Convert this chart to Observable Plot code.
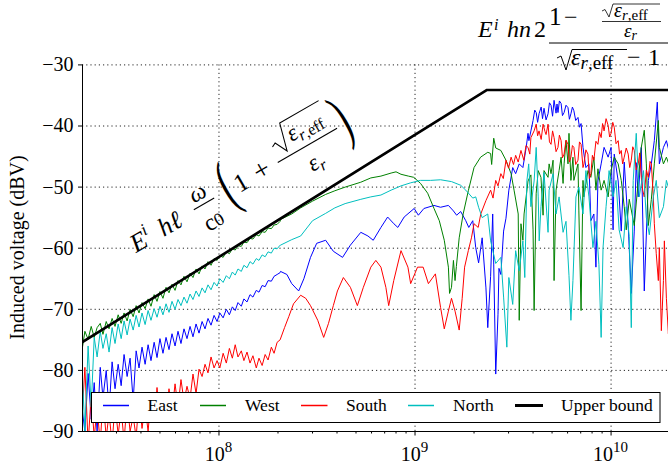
<!DOCTYPE html>
<html><head><meta charset="utf-8">
<script src="https://cdn.jsdelivr.net/npm/d3@7"></script>
<script src="https://cdn.jsdelivr.net/npm/@observablehq/plot@0.6"></script>
<style>body{margin:0;background:#fff}#c{width:668px;height:466px}</style>
</head><body><div id="c"></div>
<script>
// ---------- data (frequency in MHz, induced voltage in dBV) ----------
const lowMHz = [20,20.7,21.5,22.3,23.1,23.9,24.8,25.6,26.6,27.5,28.5,29.5,30.6,31.7,32.8,34,35.2,36.5,37.8,39.1,40.5,42,43.5,45,46.7,48.3,50,51.8,53.7,55.6,57.6,59.7,61.8,64,66.3,68.7,71.2,73.7,76.4,79.1,82,84.9,87.9,91.1,94.4,97.8,101,105,109,113,117,121,125,130,134,139,144,149,155,160,166,172,178,185,191,198,205];

const eastLow = [-86.0,-90.0,-80.5,-88.0,-82.0,-90.0,-79.5,-84.5,-80.0,-86.5,-78.6,-83.0,-79.0,-82.5,-77.4,-81.0,-78.0,-85.0,-76.8,-79.6,-76.2,-79.0,-75.8,-78.4,-75.4,-77.9,-74.8,-77.2,-74.6,-76.6,-74.0,-76.0,-73.6,-75.6,-73.2,-74.8,-72.8,-74.5,-72.4,-73.9,-72.0,-73.2,-71.5,-72.6,-71.0,-72.0,-70.6,-71.4,-70.0,-70.9,-69.6,-70.2,-68.9,-69.5,-68.3,-68.8,-67.6,-68.0,-66.9,-67.2,-66.1,-66.3,-65.3,-65.4,-64.6,-64.3,-64.0];
const westLow = [-76.8,-73.6,-74.9,-72.8,-74.6,-73.0,-72.3,-74.1,-72.0,-73.2,-71.5,-72.8,-70.9,-72.3,-70.6,-71.9,-70.0,-71.2,-69.4,-70.6,-68.9,-69.9,-68.3,-69.5,-67.6,-68.7,-67.1,-68.2,-66.4,-67.3,-65.9,-66.9,-65.3,-66.0,-64.6,-65.5,-64.1,-64.8,-63.4,-64.2,-62.9,-63.4,-62.2,-62.8,-61.7,-62.0,-61.2,-61.5,-60.6,-60.9,-60.1,-60.3,-59.6,-59.7,-59.0,-59.1,-58.4,-58.5,-57.8,-58.0,-57.3,-57.4,-56.7,-56.8,-56.2,-56.1,-55.6];
const southLow = [-88,-79.5,-92,-84,-91,-86,-92,-84.5,-91,-87,-92,-85.5,-90.5,-86.5,-91.5,-85,-90,-87.5,-91,-84.5,-89.5,-85.8,-90,-84.3,-88.5,-82.8,-88,-84.6,-87.2,-83,-86.8,-82.2,-86,-81.5,-85,-82.6,-84.6,-80.6,-83.8,-79.8,-81,-79,-80.4,-77.8,-79.6,-78.4,-79.6,-77.2,-78.8,-76.4,-78.0,-75.8,-77.8,-76.8,-78.4,-77,-78.8,-77.6,-79.6,-78.0,-79.2,-77.4,-78.3,-76.2,-77.2,-75.4,-75.0];
const northLow = [-79.0,-90.0,-76.0,-86.0,-74.6,-77.8,-73.6,-76.4,-74.0,-77.0,-73.0,-75.6,-72.4,-74.8,-71.9,-74.2,-71.6,-73.4,-71.0,-72.9,-70.6,-72.5,-70.2,-71.8,-69.9,-71.3,-69.5,-70.9,-69.1,-70.5,-68.7,-70.0,-68.4,-69.4,-68.0,-69.0,-67.5,-68.4,-67.0,-67.9,-66.5,-67.3,-66.0,-66.8,-65.6,-66.2,-65.0,-65.6,-64.5,-65.0,-63.9,-64.4,-63.4,-63.8,-62.8,-63.2,-62.2,-62.6,-61.7,-62.0,-61.1,-61.4,-60.6,-60.8,-60.0,-60.1,-59.5];

const eastHigh = [[206,-63.8],[222,-64.3],[235,-65.8],[255,-67],[271,-65],[293,-61.5],[315,-59.2],[350,-58.7],[383,-60.5],[427,-61.5],[468,-59.5],[529,-57.4],[575,-58],[612,-58.7],[670,-56.6],[725,-54.9],[780,-56],[817,-56.6],[880,-54.9],[990,-53.5],[1040,-54.6],[1110,-53.5],[1250,-53],[1350,-53.3],[1480,-53.0],[1570,-53.9],[1630,-54.6],[1710,-54.0],[1815,-55.5],[1880,-56.6],[1970,-55.5],[2040,-59.9],[2110,-62.4],[2200,-58.3],[2300,-66.5],[2350,-73],[2430,-64.6],[2490,-54.4],[2520,-62.6],[2580,-80.6],[2650,-70.8],[2680,-63.3],[2740,-64.3],[2830,-57.2],[2910,-55.1],[3010,-50.5],[3150,-46.8],[3260,-47.8],[3400,-46.2],[3550,-46.8],[3690,-43.5],[3770,-41.2],[3810,-42.4],[4000,-39.1],[4080,-37.4],[4150,-37.8],[4220,-39.4],[4290,-38.0],[4400,-36.9],[4470,-38.8],[4550,-37.1],[4660,-39.0],[4770,-38.0],[4850,-36.2],[4940,-36.6],[5030,-38.4],[5120,-35.8],[5240,-37.9],[5300,-36.4],[5360,-37.8],[5450,-35.9],[5560,-36.3],[5650,-38.3],[5760,-37.8],[5890,-36.6],[6030,-37.0],[6130,-38.9],[6240,-38.0],[6350,-36.9],[6460,-37.5],[6600,-39.1],[6780,-38.6],[6900,-40.2],[7030,-39.6],[7190,-43.5],[7440,-46.8],[7710,-46.2],[7890,-55.5],[8170,-54.4],[8370,-63.1],[8570,-49.0],[8900,-46.2],[9210,-43.5],[9660,-45.1],[10000,-43.5],[10240,-57],[10380,-44.6],[10870,-49],[11270,-57.2],[11670,-45.9],[12230,-56.3],[12680,-67.4],[13130,-57.2],[13440,-46],[13760,-51.6],[14260,-43.5],[14770,-67],[15490,-48.9],[16050,-46.2],[16620,-42.4],[17210,-36.1],[17630,-46.2],[18500,-43.5],[19150,-42.4],[20000,-44.8]];

const westHigh = [[206,-55.3],[235,-54.4],[261,-53.4],[300,-52.3],[350,-51.2],[390,-50.6],[440,-50.0],[529,-49.2],[595,-48.5],[670,-48.2],[755,-47.7],[800,-47.5],[848,-47.9],[925,-48.2],[985,-48.4],[1067,-49.4],[1160,-51],[1250,-53.5],[1330,-55.5],[1410,-58.7],[1480,-63.1],[1500,-67.4],[1535,-66.4],[1570,-62],[1600,-65.3],[1625,-63.0],[1680,-58.3],[1760,-54.4],[1870,-50.6],[2000,-46.8],[2160,-45.1],[2350,-44.3],[2430,-44.5],[2460,-46.3],[2520,-42.0],[2580,-43.6],[2740,-44.0],[2910,-45.6],[3090,-47.8],[3200,-50.5],[3360,-54.4],[3400,-71.8],[3470,-56],[3550,-58.7],[3600,-54.4],[3770,-49],[3900,-48],[4000,-57],[4050,-70.2],[4150,-51],[4250,-47.3],[4390,-48.4],[4500,-54.6],[4550,-47.3],[4770,-48.4],[4830,-46.2],[4940,-47.8],[5060,-45.6],[5120,-65.3],[5240,-50.5],[5430,-47.3],[5560,-45.1],[5690,-49.4],[5760,-46.2],[5890,-42.4],[6030,-46.2],[6100,-41.2],[6240,-48.9],[6390,-45.1],[6460,-48.9],[6780,-46.2],[6850,-53.9],[7030,-70.2],[7190,-48.9],[7270,-51.6],[7620,-47.3],[7890,-48.4],[8170,-45.1],[8370,-50.5],[8570,-47],[8900,-50.5],[9210,-48.9],[9660,-51.6],[10000,-47.3],[10380,-45.1],[10870,-46.2],[11270,-48.9],[11670,-53.2],[11950,-57],[12380,-52],[13130,-56.3],[13760,-48.9],[14260,-43.5],[14770,-40.7],[15130,-46.2],[15490,-56.3],[16050,-52],[16620,-46.2],[17420,-39.1],[17630,-43.5],[18500,-46.2],[19150,-45.1],[20000,-46.8]];

const southHigh = [[216,-73],[227,-71.2],[240,-69.1],[261,-67.7],[277,-68.2],[293,-69.4],[319,-71.8],[342,-74.6],[362,-72.3],[383,-69.4],[402,-67],[431,-64.8],[468,-66.4],[508,-69.4],[545,-66.4],[595,-63.1],[631,-62],[670,-63.1],[710,-66.4],[734,-69.4],[779,-65.3],[848,-60.4],[920,-63.1],[950,-65.8],[1030,-63.1],[1100,-63.1],[1170,-65.8],[1270,-64.2],[1350,-69.7],[1410,-73.2],[1480,-70.3],[1535,-68.2],[1600,-70.3],[1680,-73.4],[1740,-68.2],[1790,-63.1],[1870,-60.4],[1940,-58.3],[2000,-56],[2100,-56.6],[2164,-54.4],[2300,-52.2],[2430,-50.5],[2500,-51.8],[2580,-48.9],[2650,-49.8],[2740,-47.8],[2820,-48.6],[2910,-45.6],[3000,-46.9],[3090,-45.1],[3180,-46.3],[3260,-44.8],[3360,-45.9],[3470,-44],[3590,-45.6],[3680,-43.2],[3770,-43.5],[3850,-44.6],[3900,-41.9],[4050,-40.8],[4150,-39.7],[4220,-41.6],[4290,-40.8],[4400,-42.2],[4500,-39.7],[4600,-40.9],[4660,-41.4],[4770,-39.7],[4850,-42.6],[4940,-43],[5030,-40.8],[5120,-41.9],[5240,-44.2],[5360,-43.5],[5450,-41.5],[5560,-42.4],[5650,-45.2],[5760,-44.6],[5890,-42.3],[6030,-43],[6130,-45.9],[6240,-45.1],[6350,-43.2],[6460,-43.5],[6600,-46.3],[6780,-45.6],[6900,-42.6],[7030,-43],[7190,-46.8],[7270,-46.2],[7440,-43.9],[7620,-44.6],[7750,-48.6],[7890,-47.8],[8030,-44.8],[8170,-45.6],[8370,-42.5],[8570,-43],[8730,-41.0],[8900,-41.9],[9050,-39.6],[9210,-40.8],[9430,-38.8],[9660,-39.9],[9830,-41.8],[10000,-41.2],[10200,-39.4],[10380,-40.2],[10600,-42.9],[10870,-42.4],[11050,-44.6],[11270,-44],[11450,-46.2],[11670,-45.1],[11950,-43.6],[12230,-44.6],[12450,-46.8],[12680,-45.6],[12900,-43.4],[13130,-44],[13440,-47.2],[13760,-46.2],[14000,-44.4],[14260,-48.4],[14500,-50.5],[14770,-51.6],[15130,-47.2],[15490,-48.4],[15800,-45.8],[16050,-46.2],[16430,-51.6],[16620,-56],[17000,-60.9],[17420,-65.3],[17630,-59.9],[18050,-73.5],[18500,-65.3],[18700,-58.8],[19150,-68.2],[19600,-74.0],[20000,-70]];

const northHigh = [[206,-59.5],[235,-58.6],[261,-58.0],[300,-55.5],[350,-54.3],[390,-53.4],[440,-52.7],[529,-52.0],[595,-51.6],[670,-51.3],[755,-50.5],[848,-49.8],[950,-49.3],[1067,-48.9],[1200,-48.9],[1350,-48.8],[1535,-49.1],[1710,-49.7],[1815,-50.5],[1970,-51.8],[2040,-51.6],[2110,-53.3],[2200,-55],[2350,-54.4],[2430,-58.8],[2580,-62.5],[2740,-61.5],[2830,-68],[2940,-76.2],[3010,-64.8],[3150,-69.2],[3260,-60.4],[3400,-63.7],[3550,-58.8],[3630,-64.8],[3720,-49],[3800,-46.2],[3900,-53.2],[4050,-49],[4150,-43.5],[4250,-51.6],[4300,-58.8],[4390,-53.2],[4550,-47.6],[4770,-57.4],[4830,-50.5],[5060,-47.8],[5240,-54.4],[5430,-51.6],[5690,-57.4],[5890,-55.6],[6100,-64.5],[6240,-71.8],[6390,-65.3],[6620,-51.6],[6850,-50],[7190,-54.4],[7440,-47.3],[7710,-51.6],[8080,-59.9],[8370,-55.6],[8670,-62.7],[8900,-74.6],[9100,-59.9],[9430,-53.2],[9770,-47.3],[10240,-51.6],[10600,-48.9],[10990,-57.0],[11520,-59.9],[11950,-53.2],[12380,-58.1],[12680,-73],[12970,-48.9],[13440,-41.2],[13920,-51.6],[14630,-47.3],[15130,-55.0],[15670,-57.8],[16430,-51.6],[17000,-48.9],[17630,-55.0],[18500,-53.2],[19150,-48.9],[20000,-51.0]];

const boundMHz = [20, 2330, 20000];
const boundV = [-75.4, -34.1, -34.1];

const seriesNames = ["East", "West", "South", "North", "Upper bound"];
const seriesColors = ["#0000ff", "#008000", "#ff0000", "#00bfbf", "#000000"];
const yTicks = [-90, -80, -70, -60, -50, -40, -30];
const xMajor = [1e8, 1e9, 1e10];
const xMajorExp = ["8", "9", "10"];
const xMinor = [3e7,4e7,5e7,6e7,7e7,8e7,9e7,2e8,3e8,4e8,5e8,6e8,7e8,8e8,9e8,2e9,3e9,4e9,5e9,6e9,7e9,8e9,9e9];

// ---------- build tables ----------
const mk = (fs, vs) => fs.map((f, i) => ({f: f * 1e6, v: vs[i]}));
const mkp = arr => arr.map(([f, v]) => ({f: f * 1e6, v}));
const east = [...mk(lowMHz, eastLow), ...mkp(eastHigh)];
const west = [...mk(lowMHz, westLow), ...mkp(westHigh)];
const south = [...mk(lowMHz, southLow), ...mkp(southHigh)];
const north = [...mk(lowMHz, northLow), ...mkp(northHigh)];
const bound = mk(boundMHz, boundV);
const all = [east, west, south, north];

const SERIF = "'Liberation Serif','DejaVu Serif',serif";

const chart = Plot.plot({
  width: 668, height: 466,
  marginLeft: 82, marginRight: 0, marginTop: 64.4, marginBottom: 35,
  style: {fontFamily: SERIF, background: "#fff", color: "#000", overflow: "hidden"},
  x: {type: "log", domain: [2.013e7, 1.963e10], axis: null, label: null},
  y: {domain: [-90, -30], axis: null, label: null},
  marks: [
    Plot.gridX(xMajor, {stroke: "#000", strokeOpacity: 0.85, strokeDasharray: "1.2,3"}),
    Plot.gridY(yTicks.slice(1), {stroke: "#000", strokeOpacity: 0.85, strokeDasharray: "1.2,3"}),
    ...all.map((d, i) => Plot.line(d, {x: "f", y: "v", stroke: seriesColors[i], strokeWidth: 1, clip: true})),
    Plot.line(bound, {x: "f", y: "v", stroke: "#000", strokeWidth: 2.6, clip: true}),
    Plot.ruleX([2.013e7], {stroke: "#000", strokeWidth: 1}),
    Plot.ruleY([-90], {stroke: "#000", strokeWidth: 1}),
    Plot.axisY(yTicks, {anchor: "left", tickSize: 4, tickPadding: 5, fontSize: 20, label: null,
      tickFormat: d => "\u2212" + Math.abs(d)}),
    Plot.axisX(xMajor, {anchor: "bottom", tickSize: 4.5, label: null, tickFormat: () => ""}),
    Plot.axisX(xMinor, {anchor: "bottom", tickSize: 2.5, label: null, tickFormat: () => ""})
  ]
});
document.getElementById("c").appendChild(chart);

// ---------- annotations ----------
const sx = chart.scale("x");
const svg = d3.select(chart);
const g = svg.append("g").attr("font-family", SERIF).attr("fill", "#000").attr("text-anchor", "start");

function T(p, x, y, size, parts, opts = {}) {
  const t = p.append("text").attr("x", x).attr("y", y).attr("font-size", size)
    .attr("text-anchor", opts.anchor || "start");
  if (opts.transform) t.attr("transform", opts.transform);
  for (const [s, it, sz, dy] of parts) {
    const ts = t.append("tspan").text(s);
    if (it) ts.attr("font-style", "italic");
    if (sz) ts.attr("font-size", sz);
    if (dy) ts.attr("dy", dy);
  }
  return t;
}
function L(p, x1, y1, x2, y2, w = 1) {
  p.append("line").attr("x1", x1).attr("y1", y1).attr("x2", x2).attr("y2", y2)
    .attr("stroke", "#000").attr("stroke-width", w);
}
function P(p, d, w = 1) {
  p.append("path").attr("d", d).attr("fill", "none").attr("stroke", "#000").attr("stroke-width", w);
}

// x tick labels 10^n
xMajor.forEach((v, i) => {
  T(g, sx.apply(v), 461, 20, [["10"], [xMajorExp[i], 0, 15, -9]], {anchor: "middle"});
});

// y label
T(g, 0, 0, 20, [["Induced voltage (dBV)"]], {anchor: "middle", transform: "translate(24,247.5) rotate(-90)"});

// rotated formula along the rising bound
const rg = g.append("g").attr("transform", "translate(136,253) rotate(-30) scale(1.07)");
T(rg, 0, 0, 24, [["E", 1]]);
T(rg, 15, -10, 16, [["i", 1]]);
T(rg, 30, 0, 24, [["h\u2113", 1]]);
T(rg, 78, -13, 22, [["\u03c9", 1]], {anchor: "middle"});
L(rg, 67, -8, 89, -8);
T(rg, 78, 17, 22, [["c"], ["0", 0, 17]], {anchor: "middle"});
T(rg, 0, 0, 60, [["("]], {transform: "translate(99,6) scale(0.55,1)"});
T(rg, 112, 0, 24, [["1"]]);
T(rg, 133, 0, 26, [["+"]]);
L(rg, 157, -7, 221, -7);
P(rg, "M160,-22 L164,-24 L170,-12 L177,-38 L219,-38");
T(rg, 178, -17, 22, [["\u03b5", 1], ["r", 1, 15, 4], [",eff", 0, 15]]);
T(rg, 181, 17, 22, [["\u03b5", 1], ["r", 1, 15, 4]]);
T(rg, 0, 0, 60, [[")"]], {transform: "translate(223,6) scale(0.55,1)"});

// top formula for the flat bound
T(g, 478, 37, 24, [["E", 1]]);
T(g, 494, 30, 16, [["i", 1]]);
T(g, 507, 37, 24, [["hn", 1]]);
T(g, 534, 37, 24, [["2"]]);
L(g, 549, 43, 668, 43);
T(g, 549, 25, 25, [["1"]]);
T(g, 564, 25, 24, [["\u2212"]]);
L(g, 602, 21.5, 661, 21.5, 0.8);
P(g, "M602,11 L605,9.5 L609,17 L613,4 L660,4", 0.8);
T(g, 614, 16.5, 20, [["\u03b5", 1], ["r", 1, 15, 3], [",eff", 0, 15]]);
T(g, 624, 37, 19, [["\u03b5", 1], ["r", 1, 14, 3]]);
P(g, "M557,58 L561,56 L566,70 L572,49.5 L627,49.5");
T(g, 571, 65, 24, [["\u03b5", 1], ["r", 1, 19, 4], [",eff", 0, 19]]);
T(g, 627, 65, 24, [["\u2212"]]);
T(g, 648, 65, 24, [["1"]]);

// legend
const lg = g.append("g");
lg.append("rect").attr("x", 91.5).attr("y", 392.5).attr("width", 568.5).attr("height", 30)
  .attr("fill", "#fff").attr("stroke", "#000").attr("stroke-width", 1);
const legX = [[103, 129, 147.5], [200, 226, 245], [301, 327.5, 346], [408, 434, 453], [515, 543, 561]];
seriesNames.forEach((n, i) => {
  const [a, b, tx] = legX[i];
  lg.append("line").attr("x1", a).attr("x2", b).attr("y1", 405.5).attr("y2", 405.5)
    .attr("stroke", seriesColors[i]).attr("stroke-width", i === 4 ? 3 : 1.5);
  T(lg, tx, 411, 17.5, [[n]]);
});
</script>
</body></html>
